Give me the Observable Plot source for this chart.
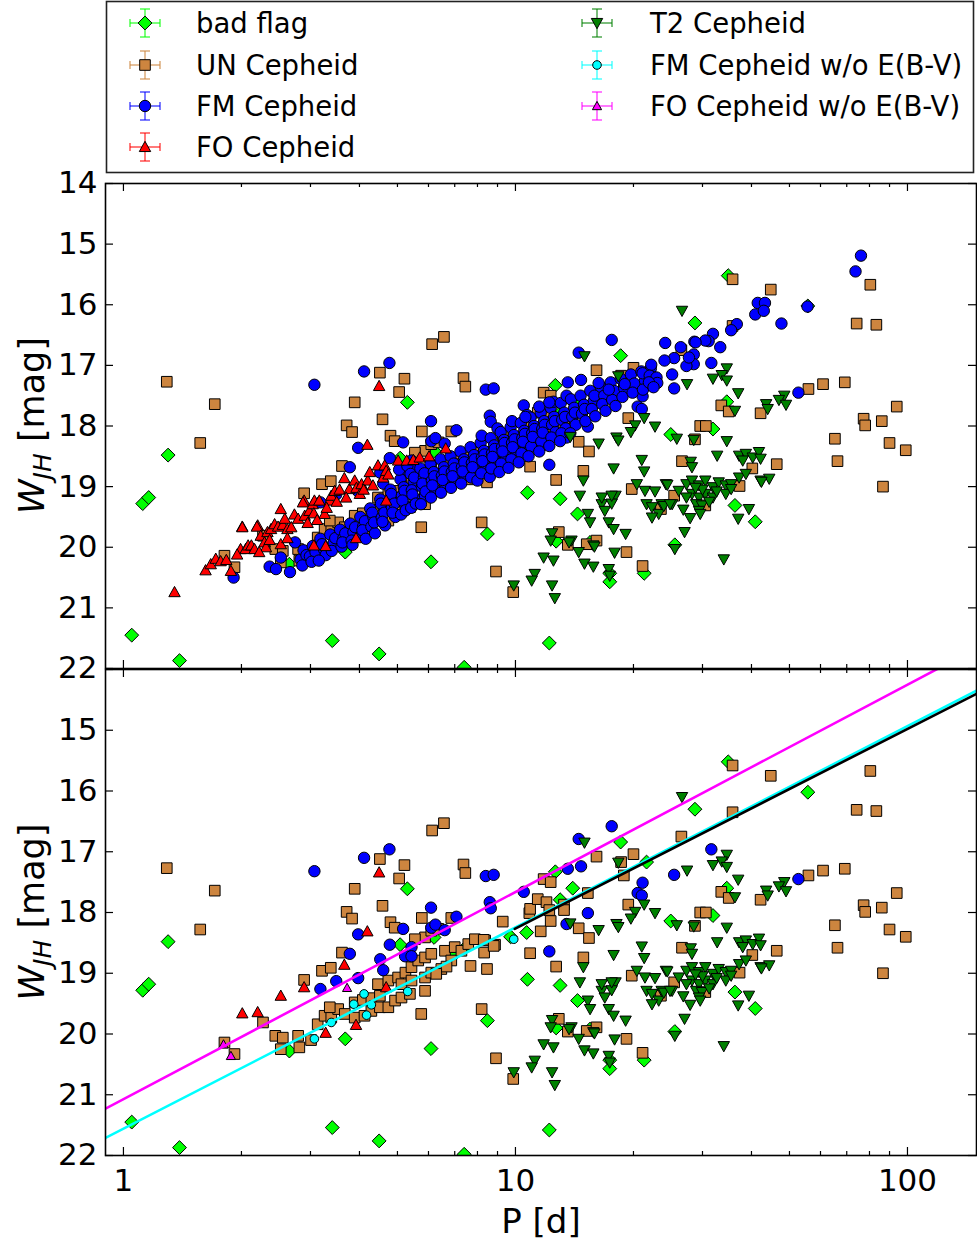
<!DOCTYPE html>
<html>
<head>
<meta charset="utf-8">
<script src="https://cdn.jsdelivr.net/npm/d3@7"></script>
<script src="https://cdn.jsdelivr.net/npm/@observablehq/plot@0.6"></script>
<style>
  html, body { margin: 0; padding: 0; background: #fff; }
  body { width: 977px; height: 1245px; position: relative; overflow: hidden; font-family: "DejaVu Sans", sans-serif; }
  #legend { position: absolute; left: 0; top: 0; }
  #top { position: absolute; left: 0; top: 173px; }
  #bottom { position: absolute; left: 0; top: 664px; }
</style>
</head>
<body>
<div id="legend"></div>
<div id="top"></div>
<div id="bottom"></div>
<script>
// ---------------- DATA (P [d], W_JH [mag]) ----------------
const seriesNames = ["bad flag", "UN Cepheid", "FM Cepheid", "FO Cepheid", "T2 Cepheid", "FM Cepheid w/o E(B-V)", "FO Cepheid w/o E(B-V)"];

const badFlag = [
[1.05,21.45],[1.39,21.87],[1.30,18.48],[1.12,19.28],[1.16,19.18],[3.41,21.54],[4.49,21.76],[3.68,20.08],[2.65,20.28],[5.30,17.61],
[6.09,20.24],[8.48,19.78],[10.73,19.10],[7.40,21.98],[6.20,18.41],[5.08,18.53],[6.94,18.71],[7.45,18.58],[9.72,18.40],[10.68,18.33],
[12.64,17.33],[34.9,15.52],[28.7,16.30],[18.55,16.84],[55.7,16.02],[13.0,19.20],[14.4,19.45],[24.9,18.14],[31.9,18.05],[34.6,17.60],
[36.3,19.31],[40.9,19.58],[25.5,19.96],[17.4,20.43],[17.4,20.57],[21.3,20.43],[12.2,21.58],[12.7,19.90],[15.5,19.92],[14.0,17.60],
[13.0,17.79],[21.6,17.17]
];

const unCepheid = [
[1.29,17.27],[1.57,18.28],[1.71,17.64],[1.81,20.14],[1.92,20.33],[2.27,19.81],[2.44,20.03],[2.55,20.06],[2.52,20.25],[2.79,20.03],
[2.81,20.22],[2.89,19.11],[3.01,20.10],[3.13,19.84],[3.21,18.96],[3.38,18.91],[3.26,19.70],[3.39,19.73],[3.53,19.59],[3.67,19.67],
[3.36,19.56],[3.61,18.66],[3.71,17.99],[3.83,18.10],[3.89,17.61],[3.89,19.48],[4.08,19.44],[4.29,19.41],[4.51,19.37],[3.89,19.73],
[4.12,19.70],[4.29,19.62],[4.51,19.56],[4.74,19.56],[4.93,19.45],[5.12,19.40],[5.38,19.34],[4.46,19.18],[4.74,19.12],[5.02,19.07],
[5.24,18.99],[5.43,18.90],[5.65,18.79],[5.88,18.74],[6.10,18.68],[5.12,19.18],[5.43,19.12],[5.88,19.07],[6.10,18.99],[5.88,18.41],
[6.10,18.30],[6.36,18.27],[5.54,18.44],[6.61,18.63],[6.86,18.79],[7.00,18.57],[7.28,18.63],[7.58,18.52],[7.88,18.44],[8.37,18.46],
[8.32,18.66],[8.87,18.53],[7.68,18.88],[8.46,18.93],[5.75,19.67],[8.20,19.59],[8.92,20.40],[9.87,20.74],[5.88,19.29],[6.47,18.93],
[6.67,18.89],[6.28,19.01],[4.51,17.12],[5.21,17.22],[5.05,17.44],[4.58,17.89],[7.37,17.21],[7.45,17.35],[4.80,18.16],[4.92,18.25],
[5.77,18.09],[6.86,18.09],[9.28,18.15],[6.13,16.65],[6.57,16.53],[10.85,18.01],[10.9,17.94],[11.4,17.78],[10.9,18.67],[11.8,17.45],
[12.3,17.50],[12.0,17.83],[13.3,17.87],[12.2,17.96],[13.3,17.96],[12.3,18.14],[11.6,18.31],[14.5,18.26],[15.4,18.42],[14.9,18.74],
[16.1,17.08],[15.3,17.68],[18.6,17.17],[18.9,17.39],[20.0,17.04],[19.4,17.87],[26.5,16.75],[35.8,15.58],[35.8,16.35],[44.8,15.75],
[80.4,15.67],[74.2,16.31],[83.3,16.33],[29.6,18.00],[30.6,18.00],[28.7,18.22],[33.5,17.66],[35.0,17.76],[42.2,17.79],[55.9,17.39],
[60.9,17.31],[69.2,17.28],[93.9,17.68],[77.3,17.88],[78.0,17.99],[86.0,17.92],[65.3,18.21],[90.0,18.28],[99.0,18.40],[66.3,18.58],
[86.6,19.00],[26.6,18.58],[46.4,18.63],[40.2,18.70],[37.3,18.99],[19.8,19.04],[23.5,19.37],[25.4,19.15],[30.5,19.31],[12.7,18.89],
[12.9,19.75],[13.6,19.96],[15.2,19.95],[16.1,19.89],[19.2,20.08],[21.1,20.31],[8.3,18.45],[8.8,18.55]
];

// FM Cepheids shown in both panels (off the PL sequence)
const fmOutliers = [
[3.07,17.32],[4.11,17.10],[4.77,16.96],[8.40,17.40],[8.80,17.38],[10.5,17.66],[6.09,17.92],[7.07,18.07],[8.60,17.83],[8.65,17.93],
[6.10,18.25],[6.25,18.20],[6.60,18.29],[5.17,18.27],[3.97,18.36],[4.78,18.53],[5.43,18.57],[5.23,18.72],[5.43,18.72],[4.60,18.95],
[4.52,18.77],[3.78,18.68],[3.49,19.13],[3.18,19.26],[3.97,19.08],[13.6,17.28],[14.7,17.24],[14.5,16.79],[17.6,16.58],[15.3,18.01],
[13.5,18.19],[12.2,18.64],[21.1,17.51],[20.5,17.68],[21.0,17.72],[25.4,17.38],[31.6,16.96],[52.7,17.45]
];

// FM Cepheids of the PL sequence (upper panel only)
const fmMain = [
[1.91,20.50],[2.36,20.32],[2.52,20.17],[2.66,20.41],[2.74,19.92],[2.45,20.36],
[2.83,20.20],[2.88,20.05],[2.93,20.13],[2.86,20.30],
[2.99,20.15],[3.04,19.98],[3.09,20.08],[3.02,20.24],
[3.18,19.86],[3.25,20.04],[3.21,19.95],[3.28,20.13],[3.15,20.22],
[3.37,19.79],[3.44,19.92],[3.40,20.06],[3.47,19.85],
[3.57,19.71],[3.64,19.85],[3.60,19.99],[3.68,19.77],[3.62,19.92],
[3.79,19.61],[3.86,19.75],[3.82,19.89],[3.90,19.67],[3.84,19.96],
[4.02,19.50],[4.09,19.65],[4.05,19.81],[4.13,19.57],[4.07,19.72],[4.15,19.86],
[4.26,19.36],[4.34,19.50],[4.29,19.66],[4.38,19.77],[4.31,19.43],[4.36,19.59],
[4.52,19.21],[4.61,19.35],[4.56,19.51],[4.65,19.64],[4.54,19.28],[4.63,19.43],[4.58,19.58],
[4.80,19.05],[4.89,19.21],[4.84,19.34],[4.94,19.50],[4.82,19.12],[4.91,19.28],[4.86,19.43],
[5.09,18.88],[5.19,19.01],[5.13,19.15],[5.23,19.31],[5.11,19.46],[5.21,19.07],[5.15,19.23],[5.25,19.39],[5.05,18.72],[5.30,18.66],
[5.40,18.79],[5.50,18.92],[5.44,19.06],[5.55,19.20],[5.42,19.35],[5.52,18.85],[5.46,19.13],[5.57,19.28],
[5.72,18.70],[5.84,18.85],[5.77,19.00],[5.88,19.15],[5.74,19.29],[5.86,18.78],[5.79,18.95],[5.90,19.08],
[6.07,18.62],[6.19,18.76],[6.12,18.90],[6.24,19.05],[6.09,19.18],[6.21,18.83],[6.14,18.98],
[6.44,18.55],[6.57,18.68],[6.49,18.82],[6.62,18.96],[6.46,19.10],[6.59,18.75],[6.52,18.89],
[6.83,18.50],[6.96,18.62],[6.88,18.76],[7.02,18.88],[6.85,19.02],[6.99,18.70],[6.91,18.83],
[7.24,18.42],[7.39,18.55],[7.30,18.68],[7.44,18.82],[7.27,18.95],[7.41,18.60],[7.33,18.75],
[7.68,18.35],[7.84,18.48],[7.74,18.61],[7.90,18.72],[7.71,18.85],[7.87,18.55],[7.77,18.68],[8.00,18.90],
[8.15,18.28],[8.31,18.41],[8.21,18.52],[8.38,18.65],[8.18,18.78],[8.34,18.47],[8.24,18.58],[8.20,18.16],[8.60,18.84],
[8.65,18.20],[8.82,18.32],[8.71,18.45],[8.89,18.58],[8.68,18.70],[8.85,18.38],[8.74,18.51],[9.00,18.04],
[9.17,18.10],[9.35,18.23],[9.24,18.35],[9.43,18.48],[9.20,18.62],[9.38,18.28],[9.27,18.42],[9.10,18.76],
[9.72,18.02],[9.91,18.15],[9.80,18.28],[9.99,18.40],[9.76,18.55],[9.95,18.22],[9.84,18.35],[9.80,17.92],[9.60,18.69],
[10.32,17.95],[10.53,18.08],[10.41,18.20],[10.62,18.32],[10.36,18.45],[10.57,18.13],[10.45,18.26],[10.20,18.60],[10.70,17.82],
[10.93,17.86],[11.15,18.00],[11.03,18.12],[11.25,18.25],[10.97,18.34],[11.19,18.05],[11.07,18.18],[10.80,18.50],
[11.60,17.78],[11.83,17.92],[11.70,18.05],[11.94,18.17],[11.64,18.26],[11.88,17.98],[11.74,18.11],[11.50,18.42],[11.50,17.68],
[12.30,17.70],[12.55,17.85],[12.40,17.98],[12.66,18.10],[12.35,18.19],[12.60,17.92],[12.20,18.33],[12.50,17.60],
[13.05,17.62],[13.32,17.78],[13.16,17.90],[13.44,18.04],[13.10,18.12],[13.38,17.85],[13.00,18.25],[13.50,17.50],
[13.85,17.56],[14.12,17.70],[13.96,17.85],[14.25,17.98],[14.18,17.78],[13.80,18.12],
[14.66,17.50],[14.96,17.65],[14.78,17.80],[15.08,17.92],[15.02,17.72],
[15.52,17.42],[15.85,17.58],[15.66,17.72],[15.98,17.84],[15.91,17.50],
[16.50,17.35],[16.85,17.50],[16.65,17.64],[16.98,17.75],
[17.50,17.28],[17.85,17.42],[17.65,17.57],[18.00,17.67],
[18.55,17.22],[18.95,17.38],[18.75,17.52],
[19.70,17.15],[20.10,17.30],[19.90,17.45],
[20.95,17.10],[21.40,17.25],[21.15,17.40],
[22.15,17.05],[22.60,17.20],[22.35,17.33],
[76.1,15.19],[73.7,15.45],[55.6,16.03],[47.7,16.31],[41.5,15.97],[43.3,15.97],[40.9,16.16],[43.0,16.10],[36.7,16.32],[35.5,16.42],
[31.9,16.48],[31.1,16.60],[30.5,16.59],[33.3,16.70],[28.6,16.61],[28.8,16.62],[24.1,16.63],[26.4,16.70],[25.4,16.88],[28.5,16.82],
[28.5,16.98],[27.3,17.01],[27.7,16.87],[22.2,16.99],[21.1,17.13],[22.0,17.17],[22.9,17.20],[23.0,17.29],[21.9,17.28],[22.5,17.36],
[25.1,17.15],[24.0,16.92],[10.6,17.85],[12.2,17.61],[16.3,17.29],[17.3,17.40],[19.0,17.31]
];

// FO Cepheids shown in both panels
const foOutliers = [
[4.49,17.34],[4.19,18.31],[3.66,18.86],[2.89,19.23],[2.52,19.37],[2.01,19.66],[2.20,19.64],[3.28,19.98],[3.92,19.85],[4.68,19.23]
];

// FO Cepheids of the PL sequence (upper panel only)
const foMain = [
[1.35,20.74],[1.62,20.38],[1.67,20.28],[1.72,20.19],[1.77,20.23],[1.83,20.21],[1.88,20.39],[1.99,20.03],[2.05,20.03],[2.08,19.97],
[2.12,19.97],[2.16,20.03],[2.01,19.67],[2.19,19.66],[2.24,19.81],[2.29,19.92],[2.31,20.00],[2.33,19.75],[2.36,19.88],[2.38,19.70],
[2.43,19.62],[2.48,19.66],[2.52,19.95],[2.55,19.63],[2.58,19.53],[2.62,19.70],[2.68,19.67],[2.73,19.46],[2.79,19.53],[2.87,19.26],
[2.90,19.48],[2.98,19.40],[3.04,19.29],[3.06,19.44],[3.07,19.23],[3.16,19.23],[3.26,19.45],[3.36,19.23],[3.39,19.15],[3.46,19.07],
[3.56,19.05],[3.77,19.04],[3.89,18.90],[3.93,19.02],[4.01,19.12],[4.05,18.96],[4.20,18.90],[4.25,18.76],[4.33,18.98],[4.46,18.65],
[4.60,18.85],[4.64,18.65],[4.68,18.74],[4.74,18.80],[5.02,18.57],[5.28,18.57],[5.49,18.56],[5.70,18.52],[6.02,18.50],[6.64,18.37],
[3.06,19.97],[2.95,19.60],[3.12,19.55],[3.30,19.35],[3.50,19.25],[3.70,19.18],[4.10,19.05],[2.62,19.85],[1.95,20.12],[2.22,20.08]
];

const t2Cepheid = [
[15.0,16.85],[26.6,16.10],[34.6,17.05],[33.6,17.16],[34.6,17.25],[31.9,17.22],[27.4,17.31],[18.3,17.18],[37.0,17.46],[48.5,17.50],
[47.0,17.57],[49.0,17.65],[43.6,17.64],[44.0,17.72],[36.3,17.75],[21.3,17.87],[22.7,18.01],[20.2,17.99],[19.7,18.10],[18.1,18.19],
[18.3,18.24],[16.3,18.29],[13.8,18.18],[28.5,18.23],[25.8,18.21],[34.6,18.25],[21.0,18.56],[21.3,18.75],[17.8,18.70],[32.7,18.49],
[28.0,18.59],[28.2,18.68],[37.2,18.49],[38.7,18.46],[40.3,18.52],[41.8,18.43],[42.2,18.54],[38.0,18.57],[14.9,18.90],[14.6,19.15],
[16.6,19.29],[16.9,19.40],[18.0,19.15],[15.3,19.45],[15.5,19.59],[20.4,18.96],[21.4,19.07],[22.7,19.08],[24.2,18.96],[21.6,19.29],
[22.3,19.34],[23.2,19.45],[22.3,19.51],[23.6,19.29],[25.1,19.29],[26.1,19.07],[27.3,18.96],[28.2,18.90],[29.4,18.98],[30.5,18.90],
[31.9,19.01],[33.0,18.93],[34.4,18.98],[35.5,18.96],[37.2,18.85],[28.2,19.12],[29.4,19.18],[30.5,19.12],[31.9,19.18],[27.3,19.18],
[28.9,19.29],[29.9,19.31],[29.4,19.40],[29.6,19.45],[34.4,19.12],[35.5,19.04],[37.0,19.53],[39.4,19.37],[42.2,18.90],[44.4,18.87],
[27.0,19.75],[25.5,20.03],[34.0,20.20],[19.1,19.78],[17.9,20.09],[17.3,19.59],[17.8,19.70],[15.8,19.97],[15.0,20.27],[15.8,20.32],
[17.3,20.36],[17.4,20.47],[14.5,20.08],[13.9,19.89],[13.7,19.92],[12.4,19.77],[12.3,19.89],[12.5,20.22],[11.8,20.17],[11.2,20.44],
[11.0,20.55],[12.4,20.63],[12.6,20.84],[9.9,20.63],[38.7,18.79],[42.4,18.92],[24.4,18.97],[17.6,19.28],[15.9,19.99],[23.9,19.32],
[24.8,19.29],[26.8,19.38],[27.9,19.52],[31.2,19.25],[32.6,19.08],[30.0,19.05],[28.8,19.02],[16.6,19.18],[17.6,19.15]
];

const fmNoEbv = [[3.07,20.08],[3.39,19.81],[3.87,19.51],[4.11,19.34],[4.29,19.52],[4.17,19.69],[5.31,19.30],[9.9,18.44]];
const foNoEbv = [[3.72,19.24],[1.80,20.17],[1.88,20.36]];

// fitted relations (end points)
const foFit = [[0.9,21.23],[150,13.65]];
const fmFit = [[0.9,21.71],[150,14.35]];
const fmLongFit = [[9.96,18.27],[150,14.40]];

// axes
const xDomain = [0.9, 150];
const yDomain = [22, 14];
const xMajorTicks = [1, 10, 100];
const xMinorTicks = [2,3,4,5,6,7,8,9,20,30,40,50,60,70,80,90];
const yTicks = [14,15,16,17,18,19,20,21,22];
const yLabelsTop = [14,15,16,17,18,19,20,21,22];
const yLabelsBottom = [15,16,17,18,19,20,21,22];

// ---------------- STYLE ----------------
const FONT = "DejaVu Sans";
const COL = {bad:"#00ff00", un:"#cd853f", fm:"#0000ff", fo:"#ff0000", t2:"#008000", cyan:"#00ffff", mag:"#ff00ff"};
const SYM = {
  circle: {draw(c, s){ const r = Math.sqrt(s/Math.PI); c.moveTo(r,0); c.arc(0,0,r,0,2*Math.PI); c.closePath(); }},
  square: {draw(c, s){ const h = Math.sqrt(s/Math.PI)*0.886; c.moveTo(-h,-h); c.lineTo(h,-h); c.lineTo(h,h); c.lineTo(-h,h); c.closePath(); }},
  diamond: {draw(c, s){ const h = Math.sqrt(s/Math.PI)*1.12; c.moveTo(0,-h); c.lineTo(h,0); c.lineTo(0,h); c.lineTo(-h,0); c.closePath(); }},
  triUp: {draw(c, s){ const r = Math.sqrt(s/Math.PI); c.moveTo(0,-r); c.lineTo(r,0.8*r); c.lineTo(-r,0.8*r); c.closePath(); }},
  triDown: {draw(c, s){ const r = Math.sqrt(s/Math.PI); c.moveTo(0,r); c.lineTo(r,-0.8*r); c.lineTo(-r,-0.8*r); c.closePath(); }}
};
const R = {bad:6.2, un:6.0, fm:5.7, fo:5.7, t2:5.7, cyan:4.3, mag:4.6};

function panel({height, marginTop, marginBottom, lower}) {
  const innerH = height - marginTop - marginBottom;
  const innerW = 977 - 105 - 1;
  const xy = {x: d => d[0], y: d => d[1], clip: true, stroke: "#000", strokeWidth: 1};
  const tick = {stroke: "#000", strokeWidth: 1.2};
  const marks = [
    Plot.dot(badFlag, {...xy, symbol: SYM.diamond, r: R.bad, fill: COL.bad}),
    Plot.dot(unCepheid, {...xy, symbol: SYM.square, r: R.un, fill: COL.un}),
    Plot.dot(lower ? fmOutliers : fmOutliers.concat(fmMain), {...xy, symbol: SYM.circle, r: R.fm, fill: COL.fm}),
    Plot.dot(lower ? foOutliers : foOutliers.concat(foMain), {...xy, symbol: SYM.triUp, r: R.fo, fill: COL.fo}),
    Plot.dot(t2Cepheid, {...xy, symbol: SYM.triDown, r: R.t2, fill: COL.t2})
  ];
  if (lower) {
    marks.push(
      Plot.dot(fmNoEbv, {...xy, symbol: SYM.circle, r: R.cyan, fill: COL.cyan}),
      Plot.dot(foNoEbv, {...xy, symbol: SYM.triUp, r: R.mag, fill: COL.mag}),
      Plot.line(foFit, {x: d => d[0], y: d => d[1], stroke: COL.mag, strokeWidth: 2.6, clip: true}),
      Plot.line(fmFit, {x: d => d[0], y: d => d[1], stroke: COL.cyan, strokeWidth: 2.6, clip: true}),
      Plot.line(fmLongFit, {x: d => d[0], y: d => d[1], stroke: "#000", strokeWidth: 2.6, clip: true})
    );
  }
  marks.push(
    Plot.frame({stroke: "#000", strokeWidth: 1.6}),
    Plot.ruleX(xMajorTicks, {x: d => d, insetTop: innerH - 8, ...tick}),
    Plot.ruleX(xMajorTicks, {x: d => d, insetBottom: innerH - 8, ...tick}),
    Plot.ruleX(xMinorTicks, {x: d => d, insetTop: innerH - 4, ...tick}),
    Plot.ruleX(xMinorTicks, {x: d => d, insetBottom: innerH - 4, ...tick}),
    Plot.ruleY(yTicks, {y: d => d, insetRight: innerW - 8, ...tick}),
    Plot.ruleY(yTicks, {y: d => d, insetLeft: innerW - 8, ...tick}),
    Plot.text(lower ? yLabelsBottom : yLabelsTop, {y: d => d, text: d => String(d), frameAnchor: "left", textAnchor: "end", dx: -8, fontSize: 31, fontFamily: FONT, fill: "#000"})
  );
  if (lower) {
    marks.push(
      Plot.text(xMajorTicks, {x: d => d, text: d => String(d), frameAnchor: "bottom", lineAnchor: "top", dy: 13, fontSize: 31, fontFamily: FONT, fill: "#000"}),
      Plot.text(["P [d]"], {text: d => d, frameAnchor: "bottom", lineAnchor: "top", dy: 53, fontSize: 34, fontFamily: FONT, fill: "#000"})
    );
  }
  const svg = Plot.plot({
    width: 977, height, marginLeft: 105, marginRight: 1, marginTop, marginBottom,
    x: {type: "log", domain: xDomain, axis: null},
    y: {domain: yDomain, axis: null},
    style: {background: "transparent", overflow: "visible", fontFamily: FONT},
    marks
  });
  // y-axis title with math subscript
  const cy = marginTop + innerH / 2;
  const t = d3.select(svg).append("text")
    .attr("transform", `translate(44,${cy}) rotate(-90)`)
    .attr("text-anchor", "middle").attr("font-family", FONT).attr("font-size", 35).attr("fill", "#000");
  t.append("tspan").attr("font-style", "italic").text("W");
  t.append("tspan").attr("font-style", "italic").attr("font-size", 25).attr("dy", 7).text("JH");
  t.append("tspan").attr("dy", -7).text("\u00a0[mag]");
  return svg;
}

document.getElementById("top").appendChild(panel({height: 500, marginTop: 10, marginBottom: 5, lower: false}));
document.getElementById("bottom").appendChild(panel({height: 581, marginTop: 5, marginBottom: 90, lower: true}));

// ---------------- LEGEND ----------------
const legendSpec = [
  {name: seriesNames[0], col: 0, row: 0, sym: SYM.diamond, r: R.bad, fill: COL.bad},
  {name: seriesNames[1], col: 0, row: 1, sym: SYM.square, r: R.un, fill: COL.un},
  {name: seriesNames[2], col: 0, row: 2, sym: SYM.circle, r: R.fm, fill: COL.fm},
  {name: seriesNames[3], col: 0, row: 3, sym: SYM.triUp, r: R.fo, fill: COL.fo},
  {name: seriesNames[4], col: 1, row: 0, sym: SYM.triDown, r: R.t2, fill: COL.t2},
  {name: seriesNames[5], col: 1, row: 1, sym: SYM.circle, r: R.cyan, fill: COL.cyan},
  {name: seriesNames[6], col: 1, row: 2, sym: SYM.triUp, r: R.mag, fill: COL.mag}
];
const iconX = [145, 597], textX = [196, 650], rowY = [23, 65, 106, 147];
const leg = d3.select("#legend").append("svg").attr("width", 977).attr("height", 176);
leg.append("rect").attr("x", 106.5).attr("y", 1.5).attr("width", 867).attr("height", 171)
  .attr("fill", "#fff").attr("stroke", "#222").attr("stroke-width", 1.6);
for (const e of legendSpec) {
  const cx = iconX[e.col], cy = rowY[e.row];
  const g = leg.append("g").attr("transform", `translate(${cx},${cy})`);
  const eb = g.append("g").attr("stroke", e.fill).attr("stroke-width", 1.6).attr("stroke-opacity", 0.65);
  eb.append("line").attr("x1", -15).attr("x2", 15).attr("y1", 0).attr("y2", 0);
  eb.append("line").attr("x1", -15).attr("x2", -15).attr("y1", -4).attr("y2", 4);
  eb.append("line").attr("x1", 15).attr("x2", 15).attr("y1", -4).attr("y2", 4);
  eb.append("line").attr("x1", 0).attr("x2", 0).attr("y1", -14).attr("y2", 14);
  eb.append("line").attr("x1", -5).attr("x2", 5).attr("y1", -14).attr("y2", -14);
  eb.append("line").attr("x1", -5).attr("x2", 5).attr("y1", 14).attr("y2", 14);
  g.append("path").attr("d", d3.symbol(e.sym, Math.PI * e.r * e.r)()).attr("fill", e.fill).attr("stroke", "#000").attr("stroke-width", 1);
  leg.append("text").attr("x", textX[e.col]).attr("y", cy + 10).attr("font-family", FONT)
    .attr("font-size", 27.5).attr("fill", "#000").text(e.name);
}
</script>
</body>
</html>
